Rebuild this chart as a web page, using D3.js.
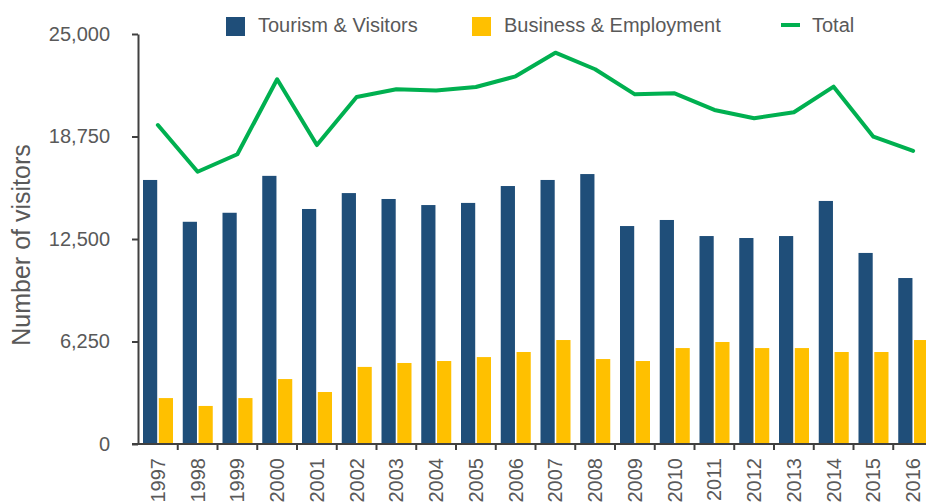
<!DOCTYPE html>
<html>
<head>
<meta charset="utf-8">
<script src="https://cdn.jsdelivr.net/npm/d3@7"></script>
<style>
  body { margin: 0; background: #fff; }
  svg { display: block; font-family: "Liberation Sans", Arial, sans-serif; }
</style>
</head>
<body>
<div id="chart"></div>
<script>
// Visitors by purpose, 1997-2016
const YEARS = ["1997","1998","1999","2000","2001","2002","2003","2004","2005","2006",
               "2007","2008","2009","2010","2011","2012","2013","2014","2015","2016"];
const TOURISM = [16100, 13550, 14100, 16350, 14330, 15300, 14940, 14570, 14700, 15730,
                 16100, 16460, 13290, 13660, 12680, 12560, 12680, 14820, 11650, 10120];
const BUSINESS = [2800, 2320, 2800, 3960, 3170, 4700, 4940, 5060, 5300, 5610,
                  6340, 5180, 5060, 5850, 6220, 5850, 5850, 5610, 5610, 6340];
const TOTAL = [19450, 16600, 17670, 22240, 18230, 21160, 21630, 21550, 21770, 22420,
               23860, 22850, 21320, 21380, 20370, 19860, 20230, 21790, 18740, 17870];
const Y_TICKS = [0, 6250, 12500, 18750, 25000];

const SERIES = [
  { key: "tourism", label: "Tourism & Visitors", color: "#1F4E79" },
  { key: "business", label: "Business & Employment", color: "#FFC000" }
];
const LINE_COLOR = "#00B050";
const TEXT_COLOR = "#595959";
const AXIS_COLOR = "#404040";

const W = 926, H = 502;
const plot = { left: 138, right: 933, top: 34, bottom: 444 };

const svg = d3.select("#chart").append("svg")
  .attr("width", W).attr("height", H);

const rows = YEARS.map((y, i) => ({ year: y, tourism: TOURISM[i], business: BUSINESS[i], total: TOTAL[i] }));

// Scales
const x = d3.scaleBand().domain(YEARS).range([plot.left, plot.right]).padding(0);
const x1 = d3.scaleBand().domain(SERIES.map(s => s.key)).range([5, 35]).paddingInner(0.1);
const y = d3.scaleLinear().domain([0, 25000]).range([plot.bottom, plot.top]);

// Bars
const groups = svg.append("g").selectAll("g")
  .data(rows).enter().append("g")
  .attr("transform", d => `translate(${x(d.year)},0)`);

groups.selectAll("rect")
  .data(d => SERIES.map(s => ({ key: s.key, color: s.color, value: d[s.key] })))
  .enter().append("rect")
  .attr("x", d => x1(d.key))
  .attr("width", x1.bandwidth())
  .attr("y", d => y(d.value))
  .attr("height", d => y(0) - y(d.value))
  .attr("fill", d => d.color);

// Total line
const line = d3.line()
  .x(d => x(d.year) + x.bandwidth() / 2)
  .y(d => y(d.total));

svg.append("path")
  .datum(rows)
  .attr("d", line)
  .attr("fill", "none")
  .attr("stroke", LINE_COLOR)
  .attr("stroke-width", 4)
  .attr("stroke-linejoin", "round")
  .attr("stroke-linecap", "round");

// Y axis
const yAxis = svg.append("g")
  .attr("transform", `translate(${plot.left},0)`)
  .call(d3.axisLeft(y).tickValues(Y_TICKS).tickSize(6).tickSizeOuter(0).tickPadding(22)
    .tickFormat(d3.format(",")));
yAxis.select(".domain").attr("stroke", AXIS_COLOR).attr("stroke-width", 2);
yAxis.selectAll(".tick line").attr("stroke", AXIS_COLOR).attr("stroke-width", 2);
yAxis.selectAll(".tick text")
  .attr("fill", TEXT_COLOR)
  .style("font-size", "20px");

// X axis baseline and boundary ticks
const xAxis = svg.append("g")
  .attr("transform", `translate(0,${plot.bottom})`)
  .call(d3.axisBottom(x).tickSize(0).tickPadding(14));
xAxis.select(".domain").attr("d", `M${plot.left - 6},0H${W}`)
  .attr("stroke", AXIS_COLOR).attr("stroke-width", 2);
xAxis.selectAll(".tick text")
  .attr("fill", TEXT_COLOR)
  .style("font-size", "20px")
  .attr("text-anchor", "end")
  .attr("transform", "rotate(-90)")
  .attr("x", -14)
  .attr("y", 0)
  .attr("dy", "0.35em");

svg.append("g").selectAll("line")
  .data(YEARS.slice(1))
  .enter().append("line")
  .attr("x1", d => x(d)).attr("x2", d => x(d))
  .attr("y1", plot.bottom).attr("y2", plot.bottom + 6)
  .attr("stroke", AXIS_COLOR).attr("stroke-width", 2);

// Y axis title
svg.append("text")
  .attr("transform", "translate(30,245) rotate(-90)")
  .attr("text-anchor", "middle")
  .attr("fill", TEXT_COLOR)
  .style("font-size", "25px")
  .text("Number of visitors");

// Legend
const legend = svg.append("g").attr("class", "legend");
const legendItems = [
  { label: SERIES[0].label, color: SERIES[0].color, type: "rect", x: 226 },
  { label: SERIES[1].label, color: SERIES[1].color, type: "rect", x: 472 },
  { label: "Total", color: LINE_COLOR, type: "line", x: 781 }
];
const li = legend.selectAll("g").data(legendItems).enter().append("g")
  .attr("transform", d => `translate(${d.x},17)`);
li.filter(d => d.type === "rect").append("rect")
  .attr("width", 19).attr("height", 19)
  .attr("fill", d => d.color);
li.filter(d => d.type === "line").append("line")
  .attr("x1", 0).attr("x2", 19).attr("y1", 8).attr("y2", 8)
  .attr("stroke", d => d.color).attr("stroke-width", 4);
li.append("text")
  .attr("x", d => d.type === "rect" ? 32 : 31)
  .attr("y", 15)
  .attr("fill", TEXT_COLOR)
  .style("font-size", "20px")
  .text(d => d.label);
</script>
</body>
</html>
